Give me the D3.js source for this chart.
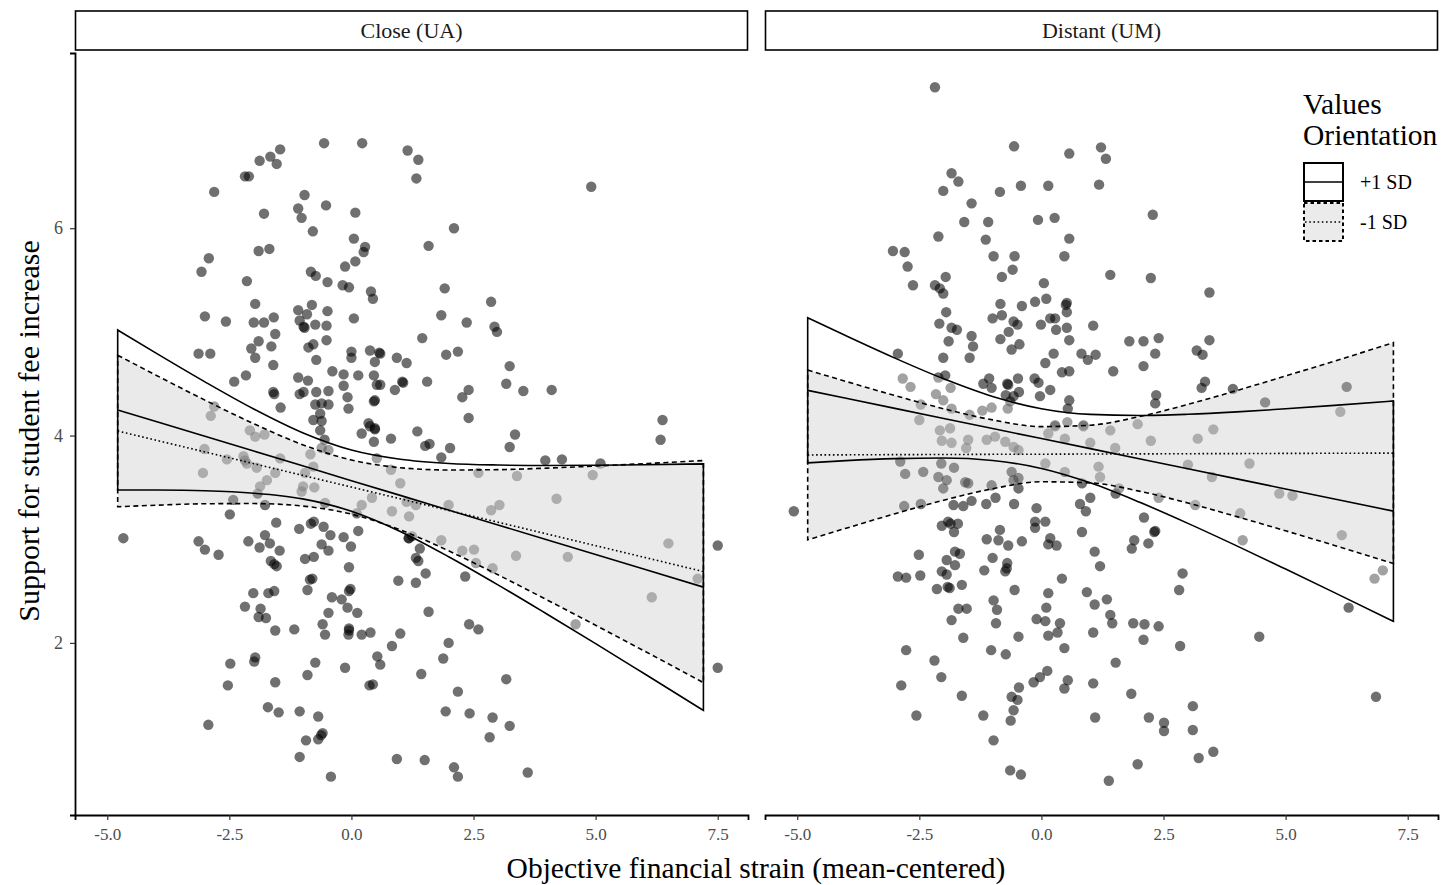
<!DOCTYPE html>
<html>
<head>
<meta charset="utf-8">
<script src="https://cdn.jsdelivr.net/npm/d3@7"></script>
<style>
body { margin: 0; background: #fff; }
text { font-family: "Liberation Serif", "Times New Roman", serif; }
</style>
</head>
<body>
<svg width="1442" height="885"></svg>
<script>
/*global d3*/

var panelNames = ["Close (UA)", "Distant (UM)"];
var xTicks = [-5, -2.5, 0, 2.5, 5, 7.5];
var yTicks = [2, 4, 6];
var groups = ["+1 SD", "-1 SD"];

var bandX = [-4.786, -4, -3, -2, -1, 0, 1, 2, 3, 4, 5, 6, 7.207];

// Close (UA)
var closeHiFit = [4.247, 4.135, 3.993, 3.850, 3.708, 3.565, 3.423, 3.280, 3.138, 2.995, 2.853, 2.710, 2.538];
var closeHiLow = [3.476, 3.475, 3.468, 3.444, 3.389, 3.270, 3.075, 2.829, 2.560, 2.279, 1.993, 1.702, 1.349];
var closeHiUp  = [5.018, 4.795, 4.518, 4.256, 4.027, 3.860, 3.771, 3.731, 3.716, 3.711, 3.713, 3.718, 3.727];
var closeLoFit = [4.044, 3.955, 3.842, 3.729, 3.616, 3.503, 3.390, 3.277, 3.164, 3.051, 2.938, 2.825, 2.688];
var closeLoLow = [3.313, 3.328, 3.342, 3.344, 3.320, 3.242, 3.090, 2.886, 2.657, 2.416, 2.170, 1.921, 1.617];
var closeLoUp  = [4.775, 4.582, 4.342, 4.114, 3.912, 3.764, 3.690, 3.668, 3.671, 3.686, 3.706, 3.729, 3.759];

// Distant (UM)
var distHiFit = [4.436, 4.360, 4.262, 4.165, 4.068, 3.971, 3.874, 3.776, 3.679, 3.582, 3.485, 3.388, 3.271];
var distHiLow = [3.736, 3.758, 3.777, 3.783, 3.759, 3.683, 3.544, 3.359, 3.153, 2.936, 2.712, 2.485, 2.208];
var distHiUp  = [5.136, 4.962, 4.747, 4.547, 4.377, 4.259, 4.204, 4.193, 4.205, 4.228, 4.258, 4.291, 4.334];
var distLoFit = [3.813, 3.814, 3.816, 3.817, 3.819, 3.820, 3.822, 3.823, 3.825, 3.826, 3.828, 3.829, 3.831];
var distLoLow = [2.994, 3.106, 3.246, 3.376, 3.487, 3.554, 3.544, 3.464, 3.349, 3.218, 3.081, 2.940, 2.766];
var distLoUp  = [4.632, 4.522, 4.386, 4.258, 4.151, 4.086, 4.100, 4.182, 4.301, 4.434, 4.575, 4.718, 4.896];

// observations [financial strain, support]
var closePoints = [
  [-1.46,6.76],[-1.66,6.69],[-1.88,6.65],[-1.53,6.62],[-0.56,6.82],[0.22,6.82],[1.15,6.75],[-2.18,6.50],[-2.10,6.50],[-2.81,6.35],
  [-0.96,6.32],[-0.52,6.22],[-1.09,6.19],[-1.02,6.10],[0.08,6.15],[-1.79,6.14],[-0.79,5.97],[0.05,5.90],[0.28,5.82],[0.25,5.77],
  [-1.90,5.78],[-1.68,5.80],[-2.92,5.71],[-3.07,5.58],[-2.14,5.49],[-0.83,5.58],[-0.73,5.54],[-0.49,5.48],[0.08,5.68],[-0.13,5.63],
  [-0.18,5.45],[-0.05,5.43],[0.40,5.39],[0.44,5.32],[-1.97,5.27],[-0.81,5.26],[-1.09,5.21],[-0.91,5.17],[-0.49,5.20],[-3.00,5.15],
  [-2.57,5.10],[-2.00,5.09],[-1.79,5.09],[-1.59,5.14],[-1.06,5.11],[-0.98,5.05],[-0.96,5.04],[-0.74,5.07],[-0.51,5.06],[0.05,5.13],
  [-1.56,4.98],[-1.90,4.91],[-2.05,4.84],[-1.97,4.75],[-1.64,4.86],[-0.88,4.85],[-0.78,4.88],[-0.51,4.92],[-3.13,4.79],[-2.89,4.79],
  [-0.72,4.73],[0.00,4.81],[0.00,4.75],[0.38,4.82],[0.57,4.80],[0.59,4.79],[0.48,4.71],[0.93,4.75],[1.13,4.70],[-1.60,4.68],
  [-2.40,4.52],[-2.16,4.58],[-1.60,4.42],[-1.58,4.40],[-1.09,4.56],[-0.89,4.53],[-0.39,4.62],[-0.16,4.59],[0.14,4.58],[0.46,4.58],
  [0.52,4.49],[0.59,4.49],[1.06,4.51],[1.04,4.52],[0.89,4.44],[-1.06,4.40],[-0.98,4.42],[-0.72,4.42],[-0.47,4.43],[-0.16,4.48],
  [-0.08,4.37],[-0.06,4.26],[0.48,4.34],[0.46,4.33],[-1.45,4.27],[-0.74,4.30],[-0.61,4.31],[-0.47,4.30],[-0.64,4.21],[-2.81,4.28],
  [-2.88,4.19],[-0.78,4.15],[-0.61,4.14],[0.35,4.12],[0.48,4.07],
  [1.37,6.66],[1.33,6.48],[2.10,6.00],[1.58,5.83],[4.91,6.40],[1.91,5.42],[2.86,5.29],[1.84,5.16],[2.36,5.09],[2.93,5.05],
  [2.98,5.00],[1.45,4.94],[1.94,4.78],[2.18,4.81],[3.24,4.67],[1.55,4.52],[2.40,4.44],[2.27,4.37],[3.17,4.50],[3.52,4.43],
  [4.10,4.44],[2.40,4.17],[6.37,4.15],
  [-2.08,4.05],[-1.97,3.99],[-1.78,4.01],[-0.64,4.05],[-0.55,3.96],[0.21,4.02],[0.38,4.09],[0.48,4.06],[0.46,3.94],[0.81,3.97],
  [-3.01,3.87],[-2.55,3.77],[-3.04,3.64],[-2.21,3.80],[-2.14,3.73],[-2.18,3.76],[-1.94,3.69],[-1.73,3.57],[-1.87,3.51],[-1.92,3.44],
  [-1.56,3.64],[-1.46,3.78],[-0.84,3.82],[-0.78,3.70],[-0.95,3.64],[-0.76,3.50],[-0.99,3.51],[-1.02,3.46],[-0.47,3.86],[-0.61,3.88],
  [0.42,3.40],[0.52,3.78],[0.81,3.67],[1.00,3.54],[0.83,3.27],[1.13,3.36],[0.21,3.33],[-2.42,3.38],[-2.49,3.24],[-1.77,3.33],
  [-0.54,3.35],[0.11,3.25],[-4.67,3.01],[-3.13,2.98],[-3.00,2.90],[-2.72,2.85],[-2.11,2.98],[-1.88,2.92],[-1.77,3.04],[-1.67,2.96],
  [-1.47,2.89],[-1.54,3.16],[-1.07,3.10],[-0.83,3.15],[-0.77,3.17],[-0.57,3.12],[-0.43,3.04],[-0.16,3.02],[-0.01,2.93],[0.14,3.08],
  [-0.95,2.81],[-0.77,2.83],[-0.61,2.95],[-0.47,2.89],[1.17,3.01],[-1.65,2.79],[-1.58,2.76],[-1.53,2.74],[-0.05,2.73],[-0.85,2.61],
  [-0.80,2.62],[-0.90,2.51],[0.96,2.60],[-2.01,2.48],[-1.70,2.48],[-1.58,2.50],[-2.18,2.35],[-1.86,2.33],[-1.90,2.25],[-1.75,2.24],
  [-0.40,2.44],[-0.20,2.42],[-0.08,2.34],[0.12,2.29],[-0.02,2.52],[-0.05,2.50],[-0.47,2.29],[-0.59,2.18],[-0.54,2.08],[-1.56,2.12],
  [-1.17,2.13],[-0.05,2.14],[-0.05,2.12],[-0.06,2.08],[0.21,2.08],[0.39,2.10],[1.00,2.09],[0.83,1.97],[-2.48,1.80],[-1.97,1.86],
  [-1.99,1.82],[-0.74,1.81],[-0.90,1.69],[-0.13,1.76],[0.53,1.87],[0.59,1.79],[-2.53,1.59],[-1.56,1.62],[0.37,1.59],[0.44,1.60],
  [-1.71,1.38],[-1.49,1.33],[-1.06,1.34],[-0.68,1.29],[-0.59,1.13],[-0.62,1.11],[-0.93,1.06],[-0.68,1.07],[-2.93,1.21],[-1.06,0.90],
  [0.93,0.88],[-0.42,0.71],
  [1.35,4.04],[1.51,3.90],[1.60,3.92],[2.02,3.88],[1.84,3.79],[3.35,4.01],[3.24,3.89],[6.33,3.96],[3.97,3.76],[4.31,3.77],
  [5.10,3.73],[2.60,3.64],[3.39,3.61],[4.94,3.62],[4.20,3.39],[1.32,3.33],[1.18,3.22],[1.99,3.33],[2.86,3.28],[3.03,3.33],
  [1.18,3.01],[1.24,3.03],[1.40,2.91],[1.32,2.82],[1.37,2.79],[1.84,2.99],[2.27,2.89],[2.51,2.90],[2.55,2.77],[2.89,2.72],
  [3.37,2.84],[4.43,2.83],[6.49,2.96],[7.50,2.94],[7.09,2.62],[6.15,2.44],[1.52,2.67],[1.32,2.58],[2.33,2.64],[1.58,2.30],
  [4.59,2.18],[2.41,2.18],[2.60,2.13],[1.99,2.00],[1.88,1.85],[1.43,1.70],[3.17,1.65],[2.18,1.53],[1.93,1.34],[2.42,1.32],
  [2.89,1.28],[3.24,1.20],[2.83,1.09],[7.50,1.76],[1.50,0.87],[2.10,0.80],[2.18,0.71],[3.61,0.75]
];

var distantPoints = [
  [-2.18,7.36],[-0.56,6.79],[0.57,6.72],[-1.84,6.53],[-1.70,6.45],[-2.01,6.36],[-0.85,6.35],[-0.42,6.41],[0.14,6.41],[-1.43,6.24],
  [-1.58,6.06],[-1.09,6.06],[-0.07,6.08],[0.27,6.10],[-2.11,5.92],[-1.14,5.89],[0.57,5.90],[-3.04,5.78],[-2.80,5.77],[-2.74,5.63],
  [-2.63,5.45],[-0.98,5.73],[-0.55,5.73],[0.47,5.73],[-1.96,5.53],[-0.59,5.60],[-0.81,5.53],[-2.18,5.45],[-2.08,5.42],[-2.01,5.37],
  [0.05,5.47],[-0.84,5.27],[-0.40,5.25],[-0.13,5.29],[0.10,5.32],[0.52,5.28],[0.50,5.26],[0.52,5.19],[0.28,5.13],[0.18,5.13],
  [-1.95,5.19],[-1.00,5.13],[-0.81,5.16],[-0.57,5.10],[-0.49,5.07],[-2.09,5.08],[-1.84,5.04],[-1.73,5.02],[-1.43,4.96],[-1.40,4.86],
  [-1.47,4.75],[-1.90,4.91],[-0.84,4.93],[-0.67,5.00],[-0.45,4.88],[-0.61,4.83],[-0.01,5.07],[0.30,5.02],[0.52,5.04],[0.57,4.92],
  [1.06,5.06],[-2.94,4.79],[-2.01,4.75],[0.25,4.79],[0.08,4.70],[0.82,4.79],[0.95,4.73],[1.11,4.78],[0.42,4.61],[0.57,4.62],
  [-1.97,4.58],[-2.11,4.56],[-2.84,4.55],[-2.68,4.47],[-1.07,4.55],[-1.19,4.50],[-0.70,4.50],[-0.68,4.49],[-0.48,4.55],[-0.14,4.55],
  [-0.06,4.51],[0.18,4.44],[-2.16,4.40],[-2.01,4.34],[-1.86,4.46],[-1.02,4.46],[-0.73,4.39],[-0.46,4.42],[-0.57,4.38],[-0.03,4.38],
  [0.57,4.34],[0.54,4.26],[-2.47,4.30],[-2.50,4.15],[-1.84,4.26],[-1.47,4.20],[-1.21,4.24],[-1.02,4.27],[-0.69,4.26],[-0.64,4.33],
  [0.28,4.10],[0.53,4.13],[0.86,4.10],
  [1.22,6.78],[1.32,6.67],[1.18,6.42],[2.28,6.13],[1.41,5.55],[2.24,5.52],[3.44,5.38],[1.80,4.91],[2.09,4.91],[2.40,4.94],
  [2.33,4.79],[3.44,4.92],[3.18,4.82],[3.30,4.78],[1.47,4.62],[2.09,4.67],[3.35,4.52],[3.28,4.46],[2.35,4.39],[2.33,4.31],
  [3.92,4.45],[4.58,4.32],[6.25,4.47],[6.12,4.23],[1.97,4.11],
  [-2.08,4.05],[-1.87,4.07],[-2.04,3.95],[-1.84,3.93],[-1.50,3.96],[-1.54,3.88],[-1.12,3.96],[-0.95,3.99],[-0.74,3.94],[-0.57,3.89],
  [-0.47,3.86],[0.14,4.02],[0.28,4.09],[0.48,3.97],[0.86,4.09],[1.00,3.93],[-2.89,3.75],[-2.79,3.63],[-2.42,3.65],[-2.05,3.73],
  [-1.79,3.69],[-2.11,3.60],[-1.94,3.57],[-2.01,3.49],[-1.56,3.55],[-1.50,3.54],[-1.02,3.52],[-0.61,3.65],[-0.57,3.57],[-0.47,3.59],
  [-0.47,3.49],[0.08,3.73],[0.48,3.65],[1.17,3.70],[1.20,3.60],[0.83,3.54],[-2.81,3.32],[-2.47,3.34],[-1.80,3.33],[-1.60,3.32],
  [-1.43,3.37],[-1.13,3.34],[-0.94,3.40],[-0.56,3.34],[-0.10,3.30],[-0.13,3.17],[0.08,3.17],[-0.13,3.11],[0.79,3.34],[0.91,3.27],
  [1.00,3.40],[-2.04,3.13],[-1.86,3.15],[-1.91,3.17],[-1.71,3.15],[-1.79,3.07],[-1.12,3.00],[-0.85,3.09],[-0.88,2.99],[-0.68,2.94],
  [-0.40,2.98],[0.18,3.01],[0.14,2.95],[0.31,2.94],[0.83,3.07],[-2.51,2.85],[-1.77,2.88],[-1.67,2.86],[-1.94,2.80],[-1.77,2.75],
  [-1.00,2.82],[-1.17,2.70],[-0.71,2.72],[-0.74,2.69],[-0.70,2.77],[1.09,2.88],[1.20,2.74],[-2.94,2.64],[-2.77,2.63],[-2.48,2.65],
  [-2.04,2.69],[-1.94,2.66],[-2.14,2.52],[-1.88,2.53],[-1.92,2.54],[-1.63,2.56],[-0.55,2.51],[0.42,2.62],[0.14,2.48],[0.93,2.49],
  [1.09,2.37],[-0.98,2.41],[-0.91,2.32],[-0.93,2.19],[-1.70,2.33],[-1.53,2.33],[-1.84,2.22],[0.10,2.34],[-0.10,2.23],[0.08,2.21],
  [0.38,2.19],[0.33,2.10],[0.14,2.07],[-0.47,2.06],[-1.60,2.05],[1.06,2.10],[-2.77,1.93],[-1.03,1.93],[-0.73,1.89],[0.47,1.95],
  [-2.19,1.83],[-2.05,1.67],[0.12,1.73],[-0.03,1.67],[-0.16,1.62],[0.54,1.64],[0.47,1.56],[1.06,1.61],[-2.87,1.59],[-1.63,1.49],
  [-0.46,1.57],[-0.61,1.48],[-0.49,1.45],[-0.57,1.35],[-0.63,1.25],[-2.56,1.30],[-1.19,1.30],[1.10,1.28],[-0.98,1.06],[-0.64,0.77],
  [-0.42,0.73],[-5.07,3.27],
  [1.41,4.05],[2.24,3.95],[3.20,3.97],[3.52,4.06],[1.51,3.88],[1.59,3.49],[1.52,3.44],[2.40,3.40],[3.15,3.33],[3.00,3.72],
  [3.49,3.60],[4.26,3.73],[4.87,3.44],[5.14,3.42],[4.07,3.25],[4.12,2.99],[6.15,3.04],[2.10,3.21],[2.31,3.07],[2.33,3.08],
  [1.90,2.99],[1.85,2.91],[2.19,2.96],[2.89,2.67],[2.82,2.51],[1.34,2.42],[1.41,2.27],[1.45,2.19],[1.88,2.19],[2.11,2.18],
  [2.40,2.16],[2.09,2.03],[2.84,1.97],[4.46,2.06],[6.99,2.70],[6.82,2.62],[6.29,2.34],[1.52,1.81],[1.84,1.51],[3.10,1.39],
  [2.20,1.28],[2.51,1.23],[2.51,1.15],[3.10,1.16],[6.85,1.48],[1.97,0.83],[3.22,0.89],[3.52,0.95],[1.38,0.67]
];

var svg = d3.select("svg"),
    panelW = 673,
    panelLeft = [75, 765],
    panelTop = 53,
    panelBottom = 815;

var x = d3.scaleLinear().domain([-5.66, 8.12]).range([0, panelW]),
    y = d3.scaleLinear().domain([0.34, 7.69]).range([panelBottom, panelTop]);

function band(fit, low, up) {
    return bandX.map(function (v, i) {
        return {x: v, fit: fit[i], lo: low[i], hi: up[i]};
    });
}

var panels = [
    {name: panelNames[0], points: closePoints,
     hi: band(closeHiFit, closeHiLow, closeHiUp), lo: band(closeLoFit, closeLoLow, closeLoUp)},
    {name: panelNames[1], points: distantPoints,
     hi: band(distHiFit, distHiLow, distHiUp), lo: band(distLoFit, distLoLow, distLoUp)}
];

var area = d3.area()
    .x(function (d) { return x(d.x); })
    .y0(function (d) { return y(d.lo); })
    .y1(function (d) { return y(d.hi); })
    .curve(d3.curveMonotoneX);

var line = d3.line()
    .x(function (d) { return x(d.x); })
    .y(function (d) { return y(d.fit); });

var dashed = "5,3.5",
    dotted = "1.6,2.6";

panels.forEach(function (p, k) {
    var g = svg.append("g")
        .attr("transform", "translate(" + panelLeft[k] + ",0)");

    // strip
    g.append("rect")
        .attr("x", 0.5).attr("y", 11)
        .attr("width", panelW - 1).attr("height", 39)
        .attr("fill", "#fff")
        .attr("stroke", "#000")
        .attr("stroke-width", 1.6);
    g.append("text")
        .attr("x", panelW / 2).attr("y", 38)
        .attr("text-anchor", "middle")
        .attr("font-size", 22)
        .attr("fill", "#1a1a1a")
        .text(p.name);

    // observations
    g.append("g").selectAll("circle")
        .data(p.points)
        .enter().append("circle")
        .attr("cx", function (d) { return x(d[0]); })
        .attr("cy", function (d) { return y(d[1]); })
        .attr("r", 5.2)
        .attr("fill", "#000")
        .attr("fill-opacity", 0.56);

    // confidence band fills, then their outlines
    g.append("path")
        .attr("d", area(p.hi))
        .attr("fill", "#fff").attr("fill-opacity", 0.35);
    g.append("path")
        .attr("d", area(p.lo))
        .attr("fill", "#c4c4c4").attr("fill-opacity", 0.35);

    g.append("path")
        .attr("d", area(p.hi))
        .attr("fill", "none")
        .attr("stroke", "#000").attr("stroke-width", 1.6);
    g.append("path")
        .attr("d", area(p.lo))
        .attr("fill", "none")
        .attr("stroke", "#000").attr("stroke-width", 1.6)
        .attr("stroke-dasharray", dashed);

    // fitted lines
    g.append("path")
        .attr("d", line(p.hi))
        .attr("fill", "none")
        .attr("stroke", "#000").attr("stroke-width", 1.6);
    g.append("path")
        .attr("d", line(p.lo))
        .attr("fill", "none")
        .attr("stroke", "#000").attr("stroke-width", 1.6)
        .attr("stroke-dasharray", dotted);

    // x axis
    var ax = g.append("g")
        .attr("transform", "translate(0," + panelBottom + ")")
        .call(d3.axisBottom(x).tickValues(xTicks).tickSizeOuter(0).tickSize(5).tickPadding(8)
            .tickFormat(function (d) { return d.toFixed(1); }));
    ax.select(".domain").attr("stroke-width", 1.8);
    ax.selectAll(".tick line").attr("stroke", "#333").attr("stroke-width", 1.2);
    ax.selectAll("text")
        .attr("font-family", "Liberation Serif, serif")
        .attr("font-size", 17)
        .attr("fill", "#4d4d4d");

    if (k === 0) {
        var ay = g.append("g")
            .call(d3.axisLeft(y).tickValues(yTicks).tickSizeOuter(0).tickSize(5).tickPadding(7));
        ay.select(".domain").attr("stroke-width", 1.8);
        ay.selectAll(".tick line").attr("stroke", "#333").attr("stroke-width", 1.2);
        ay.selectAll("text")
            .attr("font-family", "Liberation Serif, serif")
            .attr("font-size", 18)
            .attr("fill", "#4d4d4d");
    }
});

// axis titles
svg.append("text")
    .attr("x", 756).attr("y", 878)
    .attr("text-anchor", "middle")
    .attr("font-size", 29.5)
    .text("Objective financial strain (mean-centered)");

svg.append("text")
    .attr("transform", "translate(39,431) rotate(-90)")
    .attr("text-anchor", "middle")
    .attr("font-size", 30)
    .text("Support for student fee increase");

// legend
var legend = svg.append("g").attr("transform", "translate(1303,0)");
legend.append("text").attr("x", 0).attr("y", 114).attr("font-size", 29.5).text("Values");
legend.append("text").attr("x", 0).attr("y", 145).attr("font-size", 29.5).text("Orientation");

var keys = legend.selectAll(".key")
    .data(groups)
    .enter().append("g")
    .attr("class", "key")
    .attr("transform", function (d, i) { return "translate(1," + (163 + i * 40) + ")"; });

keys.append("rect")
    .attr("width", 39).attr("height", 38)
    .attr("fill", function (d, i) { return i === 0 ? "#fff" : "#ebebeb"; })
    .attr("stroke", "#000").attr("stroke-width", 2)
    .attr("stroke-dasharray", function (d, i) { return i === 0 ? null : "3.5,3"; });
keys.append("line")
    .attr("x1", 1).attr("x2", 38)
    .attr("y1", 19).attr("y2", 19)
    .attr("stroke", "#000").attr("stroke-width", 1.6)
    .attr("stroke-dasharray", function (d, i) { return i === 0 ? null : dotted; });
keys.append("text")
    .attr("x", 56).attr("y", 26)
    .attr("font-size", 20)
    .text(function (d) { return d; });
</script>
</body>
</html>
